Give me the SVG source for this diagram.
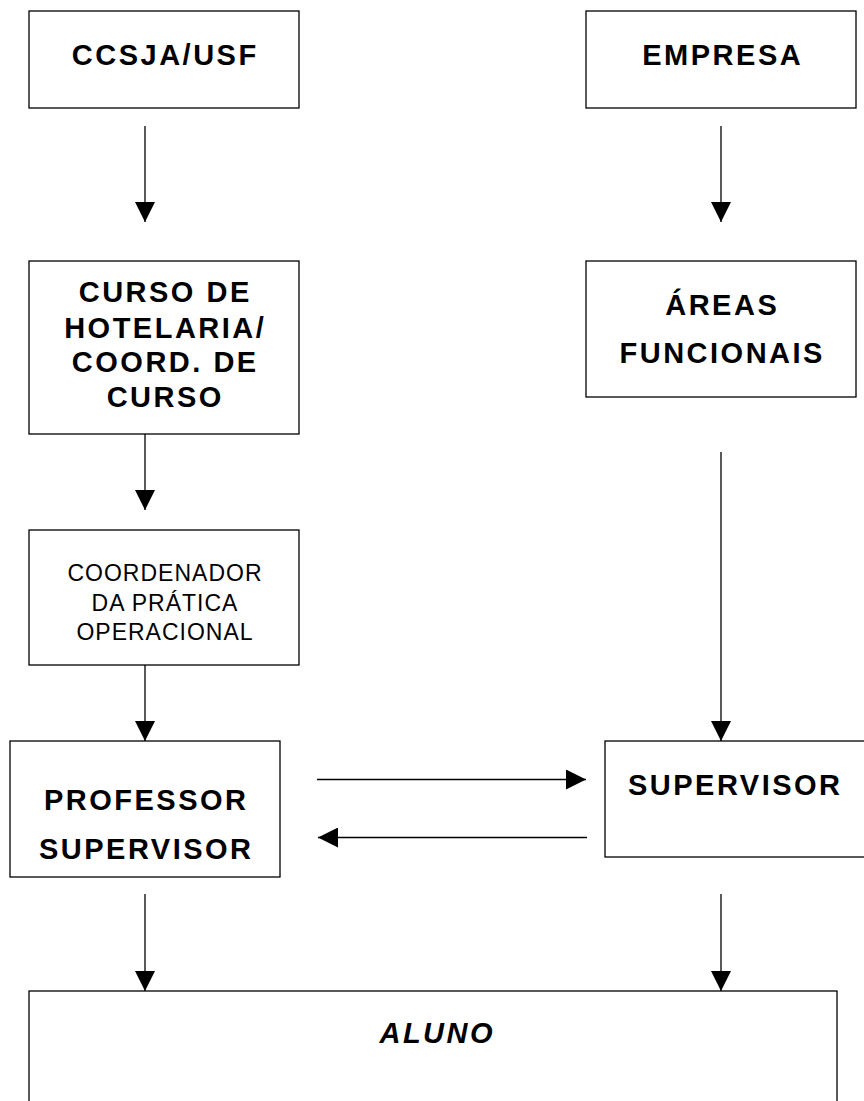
<svg xmlns="http://www.w3.org/2000/svg" width="864" height="1101" viewBox="0 0 864 1101">
<style>
.box{fill:#fff;stroke:#000;stroke-width:1.3}
.b{font-family:"Liberation Sans",Arial,sans-serif;font-weight:bold;font-size:29px;letter-spacing:2.5px;text-anchor:middle;fill:#000}
.r{font-family:"Liberation Sans",Arial,sans-serif;font-size:23px;letter-spacing:1px;text-anchor:middle;fill:#000}
.bi{font-family:"Liberation Sans",Arial,sans-serif;font-weight:bold;font-style:italic;font-size:29px;letter-spacing:2.5px;text-anchor:middle;fill:#000}
.c{stroke:#000;stroke-width:1.3;fill:none;marker-end:url(#ah)}
</style>
<defs>
<marker id="ah" markerUnits="userSpaceOnUse" markerWidth="20" markerHeight="20" refX="20" refY="10" orient="auto">
<path d="M0,0 L20,10 L0,20 z" fill="#000"/>
</marker>
</defs>
<rect width="864" height="1101" fill="#fff"/>
<g id="ccsja">
<rect class="box" x="29" y="11" width="270" height="97"/>
<text class="b" x="165.25" y="65">CCSJA/USF</text>
</g>
<g id="empresa">
<rect class="box" x="586" y="11" width="270" height="97"/>
<text class="b" x="722.75" y="65">EMPRESA</text>
</g>
<g id="curso">
<rect class="box" x="29" y="261" width="270" height="173"/>
<text class="b" x="165.25" y="302">CURSO DE</text>
<text class="b" x="165.25" y="338">HOTELARIA/</text>
<text class="b" x="165.25" y="372">COORD. DE</text>
<text class="b" x="165.25" y="407">CURSO</text>
</g>
<g id="areas">
<rect class="box" x="586" y="261" width="270" height="136"/>
<text class="b" x="722.25" y="315">ÁREAS</text>
<text class="b" x="722.25" y="363">FUNCIONAIS</text>
</g>
<g id="coordenador">
<rect class="box" x="29" y="530" width="270" height="135"/>
<text class="r" x="165" y="581">COORDENADOR</text>
<text class="r" x="165" y="611">DA PRÁTICA</text>
<text class="r" x="165" y="640">OPERACIONAL</text>
</g>
<g id="professor">
<rect class="box" x="10" y="741" width="270" height="136"/>
<text class="b" x="146.25" y="810">PROFESSOR</text>
<text class="b" x="146.25" y="859">SUPERVISOR</text>
</g>
<g id="supervisor">
<rect class="box" x="605" y="741" width="264" height="116"/>
<text class="b" x="735.25" y="795">SUPERVISOR</text>
</g>
<g id="aluno">
<rect class="box" x="29" y="991" width="808" height="130"/>
<text class="bi" x="437.25" y="1043">ALUNO</text>
</g>
<g id="connectors">
<line class="c" x1="145" y1="126" x2="145" y2="222"/>
<line class="c" x1="721" y1="126" x2="721" y2="222"/>
<line class="c" x1="145" y1="434" x2="145" y2="510"/>
<line class="c" x1="145" y1="665" x2="145" y2="741"/>
<line class="c" x1="721" y1="452" x2="721" y2="741"/>
<line class="c" x1="317" y1="779.5" x2="586" y2="779.5"/>
<line class="c" x1="587" y1="837.5" x2="318" y2="837.5"/>
<line class="c" x1="145" y1="894" x2="145" y2="991"/>
<line class="c" x1="721" y1="894" x2="721" y2="991"/>
</g>
</svg>
